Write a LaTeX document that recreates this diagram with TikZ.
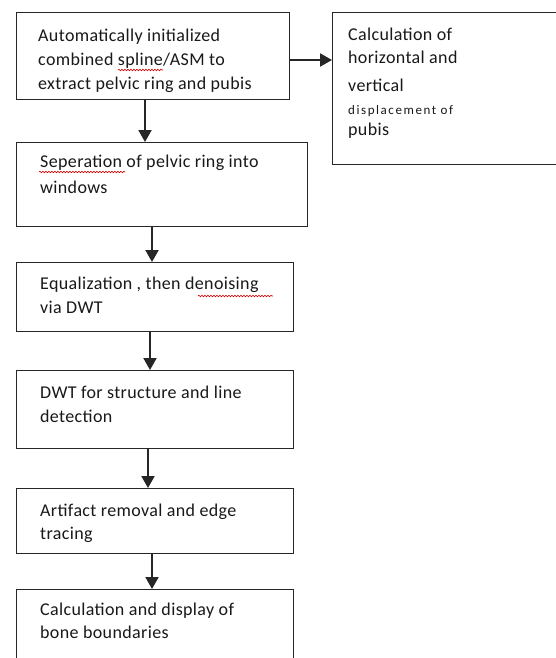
\documentclass[tikz,border=0pt]{standalone}
\usepackage{fontspec}
\setmainfont{Carlito}
\usetikzlibrary{arrows.meta,decorations.pathmorphing}
\begin{document}
\begin{tikzpicture}[x=1pt,y=-1pt,
 box/.style={draw=black!85,line width=1.3pt,inner sep=0pt,anchor=north west},
 lbl/.style={anchor=base west,inner sep=0pt,font=\fontsize{18}{20}\selectfont\addfontfeature{LetterSpace=2},text=black!90},
 small/.style={anchor=base west,inner sep=0pt,font=\fontsize{13}{15}\selectfont\addfontfeature{LetterSpace=12},text=black!90},
 arr/.style={draw=black!85,line width=2pt,-{Triangle[width=13pt,length=12pt]}},
 squig/.style={draw=red!85!black,line width=0.6pt,decorate,decoration={snake,amplitude=0.8pt,segment length=3pt}}]
\clip (0,0) rectangle (556,658);
\fill[white] (0,0) rectangle (556,658);
% boxes
\node[box,minimum width=273pt,minimum height=87pt] (b1) at (16,12) {};
\node[box,minimum width=240pt,minimum height=152pt] (r) at (332,12) {};
\node[box,minimum width=291pt,minimum height=84pt] (b2) at (16,142) {};
\node[box,minimum width=277pt,minimum height=69pt] (b3) at (16,262) {};
\node[box,minimum width=277pt,minimum height=78pt] (b4) at (16,370) {};
\node[box,minimum width=277pt,minimum height=65pt] (b5) at (16,488) {};
\node[box,minimum width=277pt,minimum height=90pt] (b6) at (16,589) {};
% texts
\node[lbl] (t1a) at (38,41.5) {Automatically initialized};
\node[lbl] (t1b) at (38,65.5) {combined spline/ASM to};
\node[lbl] (t1c) at (38,90) {extract pelvic ring and pubis};
\node[lbl] (ra) at (348,41) {Calculation of};
\node[lbl] (rb) at (348,64) {horizontal and};
\node[lbl] (rc) at (348,92) {vertical};
\node[small] (rd) at (348,115) {displacement of};
\node[lbl] (re) at (348,135.5) {pubis};
\node[lbl] (t2a) at (40,167) {Seperation of pelvic ring into};
\node[lbl] (t2b) at (40,193) {windows};
\node[lbl] (t3a) at (40,289) {Equalization , then denoising};
\node[lbl] (t3b) at (40,313) {via DWT};
\node[lbl] (t4a) at (40,398) {DWT for structure and line};
\node[lbl] (t4b) at (40,422) {detection};
\node[lbl] (t5a) at (40,516) {Artifact removal and edge};
\node[lbl] (t5b) at (40,539) {tracing};
\node[lbl] (t6a) at (40,615) {Calculation and display of};
\node[lbl] (t6b) at (40,638) {bone boundaries};
% spell-check squiggles
\draw[squig] (118,70) -- (163,70);
\draw[squig] (39,172) -- (125,172);
\draw[squig] (198,296) -- (273,296);
% arrows
\draw[arr] (b1.east |- 0,60) -- (r.west |- 0,60);
\draw[arr] (145,0 |- b1.south) -- (145,0 |- b2.north);
\draw[arr] (152,0 |- b2.south) -- (152,0 |- b3.north);
\draw[arr] (150,0 |- b3.south) -- (150,0 |- b4.north);
\draw[arr] (148,0 |- b4.south) -- (148,0 |- b5.north);
\draw[arr] (152,0 |- b5.south) -- (152,0 |- b6.north);
\end{tikzpicture}
\end{document}
